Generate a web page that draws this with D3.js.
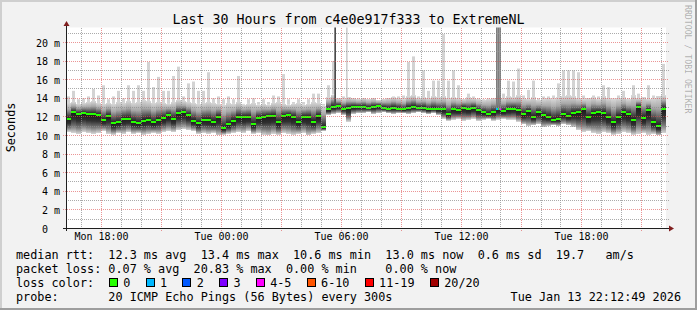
<!DOCTYPE html>
<html lang="en">
<head>
<meta charset="UTF-8" />
<title>Last 30 Hours from c4e0e917f333 to ExtremeNL</title>
<script src="https://d3js.org/d3.v7.min.js"></script>
<style>
  body { margin: 0; background: #f2f2f2; }
  svg text { font-family: "DejaVu Sans Mono", monospace; fill: #000; white-space: pre; }
</style>
</head>
<body>
<svg id="chart" width="697" height="310"></svg>
<script>
// one value per 15 minute slot, first slot Mon 12 Jan 2026 16:15 (UTC used as local)
const median = [
  11.8,12.5,12.3,12.4,12.3,12.3,12.2,11.7,12.1,11.3,11.4,11.8,11.8,11.5,11.3,11.6,11.7,11.4,11.7,11.9,
  12.2,11.8,12.4,12.5,12.2,11.6,11.3,11.7,11.7,11.5,12.0,10.8,11.2,11.6,12.0,12.0,12.0,11.2,11.9,12.0,
  12.1,12.1,11.4,12.1,12.2,12.0,11.5,12.0,12.0,11.5,12.1,10.9,12.8,13.1,13.2,12.9,13.0,13.1,13.1,13.1,
  13.0,13.1,13.2,13.0,12.9,13.0,12.9,12.8,13.0,13.1,13.0,13.0,12.8,12.9,12.8,12.8,12.3,12.8,12.7,13.0,
  12.8,13.0,12.7,12.5,12.3,12.5,12.8,12.6,12.8,12.9,12.7,12.3,12.6,12.0,12.5,12.2,12.0,11.7,11.8,12.3,
  12.1,12.4,12.5,12.8,12.0,12.4,12.5,12.4,12.0,11.4,12.0,12.5,12.3,11.7,13.1,11.9,12.7,11.4,11.0,12.9
];
const smokeLow = [
  10.4,10.3,10.2,10.4,10.3,10.2,10.3,10.5,10.2,10.1,10.3,10.2,10.4,10.2,10.3,10.1,10.2,10.3,10.2,10.4,
  10.5,10.4,10.6,10.7,10.6,10.5,10.2,10.3,10.2,10.3,10.0,10.1,10.2,10.3,10.4,10.3,10.5,10.2,10.3,10.1,
  10.0,10.2,10.1,10.3,10.2,10.1,10.2,10.3,10.0,10.2,10.3,10.5,12.2,12.3,12.4,12.2,11.5,12.3,12.4,12.4,
  12.5,12.3,12.4,12.5,12.4,12.3,12.4,12.4,12.3,12.4,12.5,12.4,12.3,12.4,12.2,11.8,11.6,11.7,11.8,11.6,
  11.7,11.8,11.6,11.7,11.8,11.6,11.7,11.8,11.7,11.7,11.5,11.2,11.0,11.1,11.2,10.9,11.0,11.1,11.0,11.2,
  11.1,10.9,10.6,10.4,10.5,10.3,10.2,10.4,10.3,10.1,10.2,10.4,10.3,10.1,10.2,10.3,10.1,10.2,10.0,10.3
];
const smokeHigh = [
  13.5,13.6,13.4,13.5,13.6,13.7,13.5,13.4,13.5,13.4,13.6,13.5,13.7,13.5,13.6,13.8,13.7,13.5,13.6,13.5,
  13.4,13.6,13.8,13.7,13.6,13.5,13.4,13.5,13.6,13.5,13.4,13.3,13.5,13.4,13.6,13.3,13.4,13.5,13.3,13.4,
  13.3,13.5,13.6,13.4,13.3,13.4,13.5,13.3,13.4,13.6,13.5,13.2,14.1,14.4,14.0,13.9,14.1,14.0,13.9,14.0,
  13.9,14.0,13.8,13.9,14.0,14.1,14.0,13.9,14.2,14.3,14.0,14.1,14.0,14.2,14.1,14.2,14.0,14.1,14.0,13.9,
  14.1,14.0,13.9,13.8,13.9,14.0,14.1,14.0,14.2,14.1,14.3,14.0,13.9,14.1,13.8,13.9,14.0,13.9,14.1,14.2,
  14.3,14.2,14.0,13.9,14.0,14.1,13.9,14.2,14.0,13.9,14.0,14.1,13.9,14.3,14.0,14.1,13.9,14.0,14.2,14.3
];
const peak = [
  14.2,14.8,13.9,14.0,14.2,15.0,14.3,15.4,13.9,14.2,14.8,14.0,15.4,14.8,15.4,14.8,17.9,15.2,16.3,14.8,
  14.8,16.4,17.4,14.2,15.6,15.8,14.8,14.8,16.8,14.0,14.2,13.9,14.2,13.9,16.4,13.4,13.9,14.0,13.6,13.9,
  13.6,14.3,14.2,16.6,13.9,13.6,13.9,13.6,13.9,14.5,14.5,13.4,15.4,18.0,13.6,14.2,13.9,14.0,14.0,14.0,
  13.9,13.9,13.6,13.9,14.0,14.2,14.2,14.3,17.9,18.5,14.2,17.0,14.8,15.9,15.9,20.9,15.9,17.0,15.4,13.9,
  14.5,14.2,14.0,13.9,14.0,13.9,14.3,14.5,15.9,15.8,17.2,14.3,14.9,15.9,14.0,14.2,14.2,14.3,15.6,17.0,
  17.0,17.0,16.8,14.3,14.0,14.3,14.2,15.4,15.2,14.0,14.3,14.8,14.0,15.4,14.5,14.0,15.4,14.3,14.2,17.7
];
// single 5 minute steps [step, ms] that shoot past the top
const darkSpikes = [[161, 22], [258, 22], [259, 22], [260, 22]];
const lightSpikes = [[168, 22]];
// [step, pings lost, median ms]
const lossMarks = [[258, 1, 12.9], [260, 4, 12.9]];

const lossLabels = ["0", "1", "2", "3", "4-5", "6-10", "11-19", "20/20"];
const lossColors = ["#26ff00", "#00b8ff", "#0059ff", "#7e00ff", "#ff00ff", "#ff5500", "#ff0000", "#a10000"];
const lossBucket = n => n === 0 ? 0 : n <= 3 ? n : n <= 5 ? 4 : n <= 10 ? 5 : n < 20 ? 6 : 7;

const yTicks = [0, 2, 4, 6, 8, 10, 12, 14, 16, 18, 20];
const yTickLabels = ["0  ", "2 m", "4 m", "6 m", "8 m", "10 m", "12 m", "14 m", "16 m", "18 m", "20 m"];
const legendLines = [
  "median rtt:  12.3 ms avg  13.4 ms max  10.6 ms min  13.0 ms now  0.6 ms sd  19.7   am/s",
  "packet loss: 0.07 % avg  20.83 % max  0.00 % min    0.00 % now",
  "loss color:",
  "probe:       20 ICMP Echo Pings (56 Bytes) every 300s"
];
const stamp = "Tue Jan 13 22:12:49 2026";
const title = "Last 30 Hours from c4e0e917f333 to ExtremeNL";

const W = 697, H = 310;
const t0 = Date.UTC(2026, 0, 12, 16, 15);
const HOUR = 3600e3, SLOT = 15 * 60e3, STEP = 5 * 60e3;

const svg = d3.select("#chart");
const x = d3.scaleUtc().domain([new Date(t0), new Date(t0 + 30 * HOUR)]).range([66, 666]);
const y = d3.scaleLinear().domain([0, 21.61]).range([228.5, 27.5]);
const px = v => Math.floor(v) + 0.5;

// frame
svg.append("rect").attr("width", W).attr("height", H).attr("fill", "#f2f2f2");
svg.append("rect").attr("width", W).attr("height", 2).attr("fill", "#cfcfcf");
svg.append("rect").attr("width", 2).attr("height", H).attr("fill", "#cfcfcf");
svg.append("rect").attr("y", H - 2).attr("width", W).attr("height", 2).attr("fill", "#9e9e9e");
svg.append("rect").attr("x", W - 2).attr("width", 2).attr("height", H).attr("fill", "#9e9e9e");

// canvas
svg.append("rect")
  .attr("x", x.range()[0]).attr("y", y.range()[1])
  .attr("width", x.range()[1] - x.range()[0]).attr("height", y.range()[0] - y.range()[1])
  .attr("fill", "#fff");

svg.append("clipPath").attr("id", "plot")
  .append("rect")
  .attr("x", x.range()[0]).attr("y", y.range()[1])
  .attr("width", x.range()[1] - x.range()[0]).attr("height", y.range()[0] - y.range()[1]);

const plot = svg.append("g").attr("clip-path", "url(#plot)");
const slotX = i => x(new Date(t0 + i * SLOT));
const stepX = s => x(new Date(t0 + s * STEP));

// smoke gradients, darkest at the median
const defs = svg.append("defs");
median.forEach((m, i) => {
  const f = (smokeHigh[i] - m) / (smokeHigh[i] - smokeLow[i]);
  const g = defs.append("linearGradient").attr("id", "smoke" + i)
    .attr("x1", 0).attr("y1", 0).attr("x2", 0).attr("y2", 1);
  [[0, "#d6d6d6"], [f * 0.4, "#a8a8a8"], [f * 0.8, "#484848"], [f, "#1b1b1b"],
   [f + (1 - f) * 0.35, "#303030"], [f + (1 - f) * 0.7, "#7a7a7a"], [1, "#d2d2d2"]]
    .forEach(([o, c]) => g.append("stop").attr("offset", o).attr("stop-color", c));
});

// light outliers
plot.append("g").selectAll("rect").data(peak).join("rect")
  .attr("x", (d, i) => slotX(i) + 1)
  .attr("width", 3)
  .attr("y", d => y(d))
  .attr("height", (d, i) => Math.max(0, y(smokeHigh[i]) - y(d)))
  .attr("fill", "#d3d3d3");

plot.append("g").selectAll("rect").data(lightSpikes).join("rect")
  .attr("x", d => stepX(d[0]))
  .attr("width", d => stepX(d[0] + 1) - stepX(d[0]))
  .attr("y", d => y(d[1]))
  .attr("height", d => y(smokeHigh[Math.floor(d[0] / 3)]) - y(d[1]))
  .attr("fill", "#cfcfcf");

// smoke
plot.append("g").selectAll("rect").data(median).join("rect")
  .attr("x", (d, i) => slotX(i))
  .attr("width", (d, i) => slotX(i + 1) - slotX(i))
  .attr("y", (d, i) => y(smokeHigh[i]))
  .attr("height", (d, i) => y(smokeLow[i]) - y(smokeHigh[i]))
  .attr("fill", (d, i) => `url(#smoke${i})`)
  .attr("shape-rendering", "crispEdges");

plot.append("g").selectAll("rect").data(darkSpikes).join("rect")
  .attr("x", d => stepX(d[0]))
  .attr("width", d => stepX(d[0] + 1) - stepX(d[0]))
  .attr("y", d => y(d[1]))
  .attr("height", d => y(median[Math.floor(d[0] / 3)]) - y(d[1]))
  .attr("fill", d => d[0] > 200 ? "#7d7d7d" : "#4a4a4a");

// median, coloured by loss
plot.append("g").selectAll("rect").data(median).join("rect")
  .attr("x", (d, i) => slotX(i))
  .attr("width", (d, i) => slotX(i + 1) - slotX(i))
  .attr("y", d => Math.round(y(d)) - 1)
  .attr("height", 2)
  .attr("fill", lossColors[0]);

plot.append("g").selectAll("rect").data(lossMarks).join("rect")
  .attr("x", d => stepX(d[0]))
  .attr("width", 2)
  .attr("y", d => Math.round(y(d[2])) - 1)
  .attr("height", 2)
  .attr("fill", d => lossColors[lossBucket(d[1])]);

// grid on top
const grid = svg.append("g").attr("fill", "none").attr("stroke-dasharray", "1,1").attr("shape-rendering", "crispEdges");
const minorY = d3.range(1, 22, 2);
grid.selectAll(".hmin").data(minorY).join("line")
  .attr("x1", 66).attr("x2", 669)
  .attr("y1", d => px(y(d))).attr("y2", d => px(y(d)))
  .attr("stroke", "rgba(143,143,143,0.75)");
grid.selectAll(".hmaj").data(yTicks.slice(1)).join("line")
  .attr("x1", 63).attr("x2", 669)
  .attr("y1", d => px(y(d))).attr("y2", d => px(y(d)))
  .attr("stroke", "rgba(222,79,79,0.6)");

const hours = d3.utcHour.range(new Date(t0), new Date(t0 + 30 * HOUR));
grid.selectAll(".vmin").data(hours.filter(d => d.getUTCHours() % 3 !== 0)).join("line")
  .attr("x1", d => px(x(d))).attr("x2", d => px(x(d)))
  .attr("y1", y.range()[1]).attr("y2", 228)
  .attr("stroke", "rgba(143,143,143,0.75)");
grid.selectAll(".vmaj").data(hours.filter(d => d.getUTCHours() % 3 === 0)).join("line")
  .attr("x1", d => px(x(d))).attr("x2", d => px(x(d)))
  .attr("y1", y.range()[1]).attr("y2", 232)
  .attr("stroke", "rgba(222,79,79,0.6)");

// axes
svg.append("line").attr("x1", 63).attr("x2", 669).attr("y1", 228.5).attr("y2", 228.5)
  .attr("stroke", "#1f1f1f").attr("shape-rendering", "crispEdges");
svg.append("line").attr("x1", 66.5).attr("x2", 66.5).attr("y1", 231).attr("y2", 25)
  .attr("stroke", "#1f1f1f").attr("shape-rendering", "crispEdges");
svg.append("path").attr("d", "M669,225.5L674,228.5L669,231.5Z").attr("fill", "#801f1f");
svg.append("path").attr("d", "M63.5,26L66.5,21L69.5,26Z").attr("fill", "#801f1f");

const xAxis = d3.axisBottom(x)
  .ticks(d3.utcHour.every(6))
  .tickFormat(d3.utcFormat("%a %H:%M"))
  .tickSize(0).tickPadding(0);
const gx = svg.append("g").attr("transform", "translate(0,233)").call(xAxis);
gx.select(".domain").remove();
gx.selectAll("text").attr("font-family", null).attr("font-size", 10).attr("fill", "#000").attr("dy", "0.68em");

const yAxis = d3.axisLeft(y)
  .tickValues(yTicks)
  .tickFormat((d, i) => yTickLabels[i])
  .tickSize(0).tickPadding(0);
const gy = svg.append("g").attr("transform", "translate(60,0)").call(yAxis);
gy.select(".domain").remove();
gy.selectAll("text").attr("font-family", null).attr("font-size", 10).attr("fill", "#000")
  .attr("xml:space", "preserve").attr("dy", "0.36em");

// titles
svg.append("text").attr("x", W / 2).attr("y", 24).attr("text-anchor", "middle")
  .style("font-size", "13.3px").text(title);
svg.append("text").attr("transform", "translate(15,127.5) rotate(-90)").attr("text-anchor", "middle")
  .style("font-size", "11.8px").text("Seconds");
svg.append("text").attr("transform", "translate(685,5) rotate(90)")
  .style("font-size", "8.2px").style("fill", "rgba(0,0,0,0.3)").text("RRDTOOL / TOBI OETIKER");

// legend
const legend = svg.append("g").style("font-size", "11.8px");
legend.selectAll("text").data(legendLines).join("text")
  .attr("xml:space", "preserve")
  .attr("x", 16).attr("y", (d, i) => 258.5 + i * 14)
  .text(d => d);
legend.append("text").attr("x", 681).attr("y", 258.5 + 3 * 14).attr("text-anchor", "end").text(stamp);

let cx = 109;
lossLabels.forEach((lab, i) => {
  legend.append("rect").attr("x", cx + 0.5).attr("y", 278.5).attr("width", 8).attr("height", 8)
    .attr("fill", lossColors[i]).attr("stroke", "#000").attr("shape-rendering", "crispEdges");
  const t = legend.append("text").attr("x", cx + 14.3).attr("y", 258.5 + 2 * 14).text(lab);
  cx += 14.3 + t.node().getComputedTextLength() + 15.3;
});
</script>
</body>
</html>
